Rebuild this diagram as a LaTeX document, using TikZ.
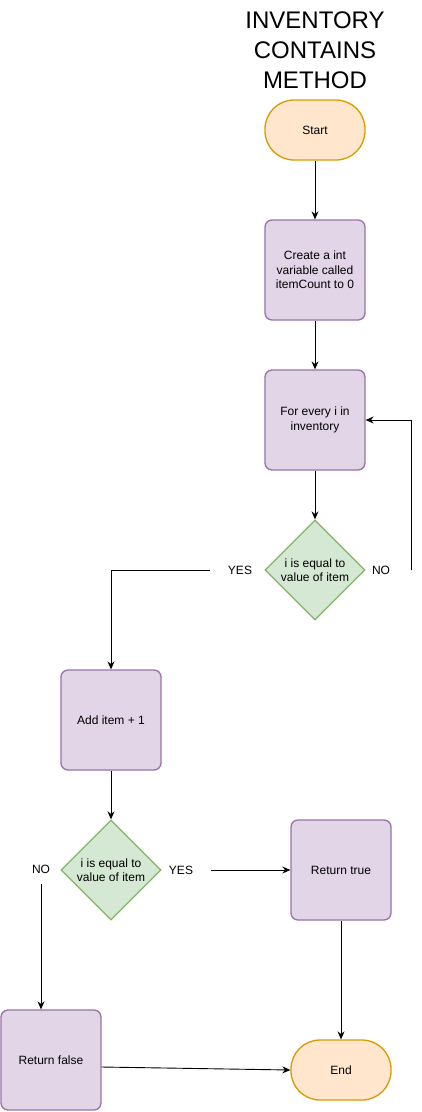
\documentclass[tikz,border=0pt]{standalone}
\usepackage{fontspec}
\setmainfont{Liberation Sans}
\usepackage{tikz}
\usetikzlibrary{arrows.meta,shapes.geometric}

\definecolor{termfill}{HTML}{FFE6CC}
\definecolor{termline}{HTML}{D79B00}
\definecolor{boxfill}{HTML}{E1D5E7}
\definecolor{boxline}{HTML}{9673A6}
\definecolor{decfill}{HTML}{D5E8D4}
\definecolor{decline}{HTML}{82B366}

\tikzset{
  terminal/.style={draw=termline, fill=termfill, line width=1.3pt, rounded corners=29pt,
    minimum width=100pt, minimum height=60pt, font=\fontsize{12}{14.4}\selectfont},
  process/.style={draw=boxline, fill=boxfill, line width=1.3pt, rounded corners=7pt,
    minimum width=100pt, minimum height=100pt, align=center, font=\fontsize{12}{14.4}\selectfont},
  decision/.style={diamond, draw=decline, fill=decfill, line width=1.3pt, inner sep=-1pt,
    minimum width=100pt, minimum height=100pt, align=center, font=\fontsize{12}{14.4}\selectfont},
  answer/.style={minimum width=60pt, minimum height=30pt, inner sep=0pt, font=\fontsize{12}{14.4}\selectfont},
  flow/.style={line width=0.9pt, -{Stealth[length=8pt,width=7pt]}},
}

\begin{document}
\begin{tikzpicture}[x=1pt, y=-1pt]
  \useasboundingbox (0,0) rectangle (422,1112);

  % Title
  \node[align=center, font=\fontsize{24}{30}\selectfont] (title) at (315,50) {INVENTORY\\CONTAINS\\METHOD};

  % Shapes of the flow chart
  \node[terminal] (start) at (315,130) {Start};
  \node[process] (create) at (315,270) {Create a int\\variable called\\itemCount to 0};
  \node[process] (loop) at (315,420) {For every i in\\inventory};
  \node[decision] (check1) at (315,570) {i is equal to\\value of item};
  \node[answer] (yes1) at (240,570) {YES};
  \node[answer] (no1) at (381,570) {NO};
  \node[process] (add) at (111,720) {Add item + 1};
  \node[decision] (check2) at (111,870) {i is equal to\\value of item};
  \node[answer] (no2) at (41,869) {NO};
  \node[answer] (yes2) at (181,870) {YES};
  \node[process] (true) at (341,870) {Return true};
  \node[process] (false) at (51,1060) {Return false};
  \node[terminal] (end) at (341,1070) {End};

  % Connectors
  \draw[flow] (start) -- (create);
  \draw[flow] (create) -- (loop);
  \draw[flow] (loop) -- (check1);
  \draw[flow] (yes1.west) -| (add.north);
  \draw[flow] (no1.east) |- (loop.east);
  \draw[flow] (add) -- (check2);
  \draw[flow] (no2.south) -- (no2.south |- false.north);
  \draw[flow] (yes2.east) -- (true.west);
  \draw[flow] (true) -- (end);
  \draw[flow] ([yshift=-7pt]false.east) -- (end.west);
\end{tikzpicture}
\end{document}
